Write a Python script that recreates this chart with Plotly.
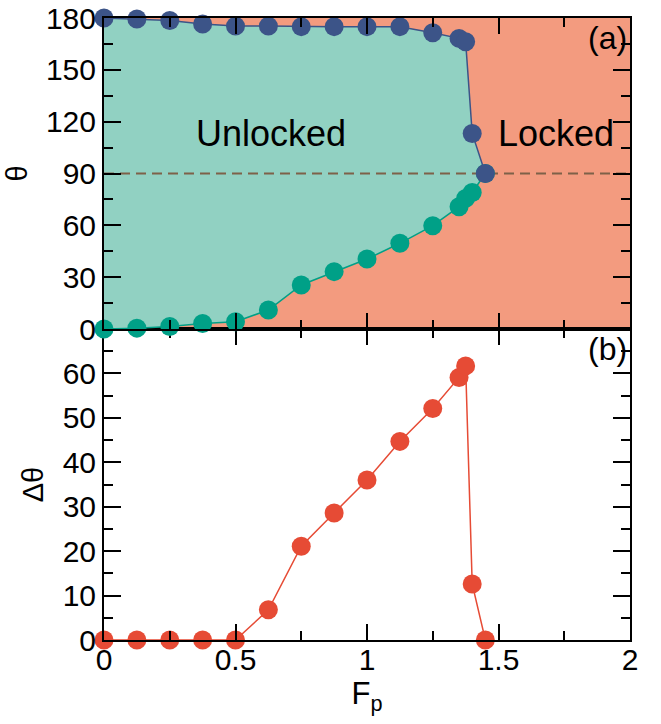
import plotly.graph_objects as go

# ---- data ----
fp = [0, 0.125, 0.25, 0.375, 0.5, 0.625, 0.75, 0.875, 1.0, 1.125, 1.25, 1.35, 1.375, 1.4, 1.45]
theta_upper = [180, 179.4, 178.5, 176.5, 175.3, 175.3, 175.0, 175.0, 175.0, 175.0, 171.5, 168.2, 166.3, 113.2, 90]
theta_lower = [0, 0.5, 1.5, 3.2, 4.2, 11.0, 25.5, 33.2, 40.5, 49.6, 59.8, 70.8, 75.6, 79.0, 90]
delta_theta = [0, 0, 0, 0, 0, 6.8, 21.1, 28.6, 36.0, 44.7, 52.1, 59.1, 61.7, 12.6, 0]

x_range = [0, 2]
x_ticks = [0, 0.5, 1, 1.5, 2]
x_ticklabels = ["0", "0.5", "1", "1.5", "2"]
top_ticks = [0, 30, 60, 90, 120, 150, 180]
bot_ticks = [0, 10, 20, 30, 40, 50, 60]
hline_y = 90

BLUE = "#3C5488"
GREEN = "#00A087"
RED = "#E64B35"
SALMON = "#F39B7F"
TEAL = "#91D1C2"
BROWN = "#7E6148"
FONT = "Liberation Sans, Arial, sans-serif"

fig = go.Figure()

# teal region between the two curves
poly_x = fp + fp[::-1]
poly_y = theta_lower + theta_upper[::-1]
fig.add_trace(go.Scatter(x=poly_x, y=poly_y, fill="toself", fillcolor=TEAL,
                         line=dict(width=0), mode="lines", hoverinfo="skip",
                         xaxis="x2", yaxis="y2", showlegend=False))
# dashed reference line
fig.add_trace(go.Scatter(x=x_range, y=[hline_y, hline_y], mode="lines",
                         line=dict(color=BROWN, width=2, dash="10px,6px"),
                         xaxis="x2", yaxis="y2", showlegend=False))
fig.add_trace(go.Scatter(x=fp, y=theta_lower, mode="lines+markers",
                         line=dict(color=GREEN, width=1.5),
                         marker=dict(color=GREEN, size=19),
                         cliponaxis=False, xaxis="x2", yaxis="y2", showlegend=False))
fig.add_trace(go.Scatter(x=fp, y=theta_upper, mode="lines+markers",
                         line=dict(color=BLUE, width=1.5),
                         marker=dict(color=BLUE, size=19),
                         cliponaxis=False, xaxis="x2", yaxis="y2", showlegend=False))
fig.add_trace(go.Scatter(x=fp, y=delta_theta, mode="lines+markers",
                         line=dict(color=RED, width=1.5),
                         marker=dict(color=RED, size=19),
                         cliponaxis=False, xaxis="x", yaxis="y", showlegend=False))

axis_common = dict(showline=True, linewidth=2, linecolor="black", mirror="ticks",
                   ticks="inside", tickcolor="black", tickwidth=1.5,
                   showgrid=False, zeroline=False, automargin=False,
                   tickfont=dict(family=FONT, size=30, color="black"))
minor_common = dict(ticklen=9, ticks="inside", tickcolor="black", tickwidth=1.5)

fig.update_layout(
    width=661, height=724,
    margin=dict(l=104, r=31, t=18, b=84),
    plot_bgcolor="white", paper_bgcolor="white",
    xaxis=dict(domain=[0, 1], anchor="y", range=x_range, tickvals=x_ticks, ticktext=x_ticklabels,
               ticklen=16, minor=dict(dtick=0.25, tick0=0, **minor_common),
               ticklabelstandoff=-8,
               title=dict(text="F<sub>p</sub>", font=dict(family=FONT, size=31, color="black"), standoff=0),
               **axis_common),
    yaxis=dict(domain=[0, 0.5], anchor="x", range=[0, 70], tickvals=bot_ticks,
               ticklen=17, minor=dict(dtick=5, tick0=0, **minor_common),
               title=dict(text="Δθ", font=dict(family=FONT, size=29, color="black"), standoff=10),
               **axis_common),
    xaxis2=dict(domain=[0, 1], anchor="y2", range=x_range, tickvals=x_ticks, showticklabels=False,
                ticklen=16, minor=dict(dtick=0.25, tick0=0, **minor_common),
                **axis_common),
    yaxis2=dict(domain=[0.5, 1], anchor="x2", range=[0, 180], tickvals=top_ticks,
                ticklen=17, minor=dict(dtick=15, tick0=0, **minor_common),
                title=dict(text="θ", font=dict(family=FONT, size=29, color="black"), standoff=10),
                **axis_common),
    shapes=[dict(type="rect", xref="x2 domain", yref="y2 domain", x0=0, x1=1, y0=0, y1=1,
                 fillcolor=SALMON, line=dict(width=0), layer="below")],
    annotations=[
        dict(text="Unlocked", x=0.635, y=113, xref="x2", yref="y2", showarrow=False,
             font=dict(family=FONT, size=36, color="black")),
        dict(text="Locked", x=1.72, y=113, xref="x2", yref="y2", showarrow=False,
             font=dict(family=FONT, size=36, color="black")),
        dict(text="(a)", x=1, y=1, xref="x2 domain", yref="y2 domain", xanchor="right", yanchor="top",
             xshift=-1, yshift=0, showarrow=False, font=dict(family=FONT, size=32, color="black")),
        dict(text="(b)", x=1, y=1, xref="x domain", yref="y domain", xanchor="right", yanchor="top",
             xshift=-1, yshift=0, showarrow=False, font=dict(family=FONT, size=32, color="black")),
    ],
)

fig.write_html("out.html")
